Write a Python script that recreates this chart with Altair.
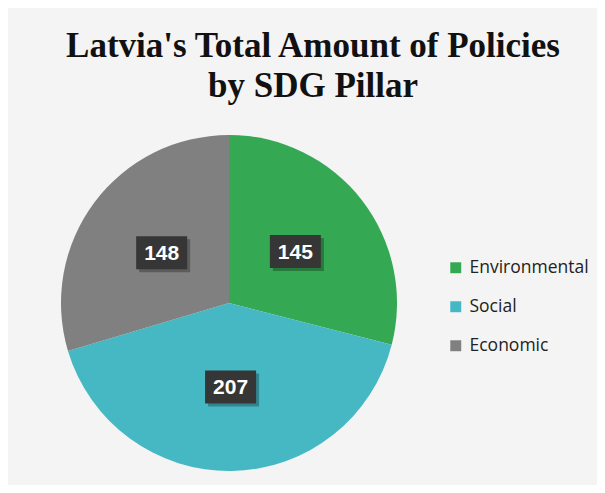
import altair as alt
import pandas as pd

categories = ["Environmental", "Social", "Economic"]
values = [145, 207, 148]
colors = ["#34a853", "#46b8c4", "#808080"]

df = pd.DataFrame({"pillar": categories, "value": values, "idx": list(range(len(categories)))})

R = 168
W = 2 * R

base = alt.Chart(df)

color_enc = alt.Color("pillar:N",
                      scale=alt.Scale(domain=categories, range=colors),
                      sort=categories,
                      legend=alt.Legend(title=None, orient="none", legendX=386, legendY=124,
                                        symbolType="square", symbolSize=120, symbolStrokeWidth=0,
                                        labelFont="Open Sans", labelFontSize=17.5, labelColor="#222",
                                        rowPadding=20, labelOffset=5))

pie = base.mark_arc(outerRadius=R, stroke=None).encode(
    theta=alt.Theta("value:Q", stack=True),
    color=color_enc,
    order=alt.Order("idx:Q"),
)

pos = base.transform_joinaggregate(total="sum(value)").transform_window(
    cum="sum(value)", sort=[alt.SortField("idx")], frame=[None, 0]
).transform_calculate(
    mid="(datum.cum - datum.value/2)/datum.total*2*PI",
).transform_calculate(
    px="0.5*sin(datum.mid)", py="0.5*cos(datum.mid)"
)

xs = alt.X("px:Q", scale=alt.Scale(domain=[-1, 1]), axis=None)
ys = alt.Y("py:Q", scale=alt.Scale(domain=[-1, 1]), axis=None)

box_path = "M-1,-0.647H1V0.647H-1Z"

shadow = pos.mark_point(shape=box_path, size=2601, filled=True, color="#000000",
                        opacity=0.28, strokeWidth=0).encode(
    x=xs, y=ys, xOffset=alt.value(3), yOffset=alt.value(3))

box = pos.mark_point(shape=box_path, size=2601, filled=True, color="#363636",
                     opacity=1, strokeWidth=0).encode(x=xs, y=ys)

labels = pos.mark_text(font="Liberation Sans", fontWeight="bold", fontSize=21,
                       color="white", baseline="middle", align="center", dy=1).encode(
    x=xs, y=ys, text="value:Q")

chart = alt.layer(pie, shadow, box, labels).properties(
    width=W, height=W,
    title=alt.TitleParams(["Latvia's Total Amount of Policies", "by SDG Pillar"],
                          font="Liberation Serif", fontSize=35, fontWeight="bold",
                          color="#111", anchor="middle", frame="group", dx=84,
                          lineHeight=40, offset=31),
    background="#f4f4f4",
    padding={"left": 53, "top": 127, "right": 200, "bottom": 14},
    autosize=alt.AutoSizeParams(type="none"),
).configure_view(stroke=None)

chart.save("out.html", embed_options={"renderer": "svg", "actions": False})
